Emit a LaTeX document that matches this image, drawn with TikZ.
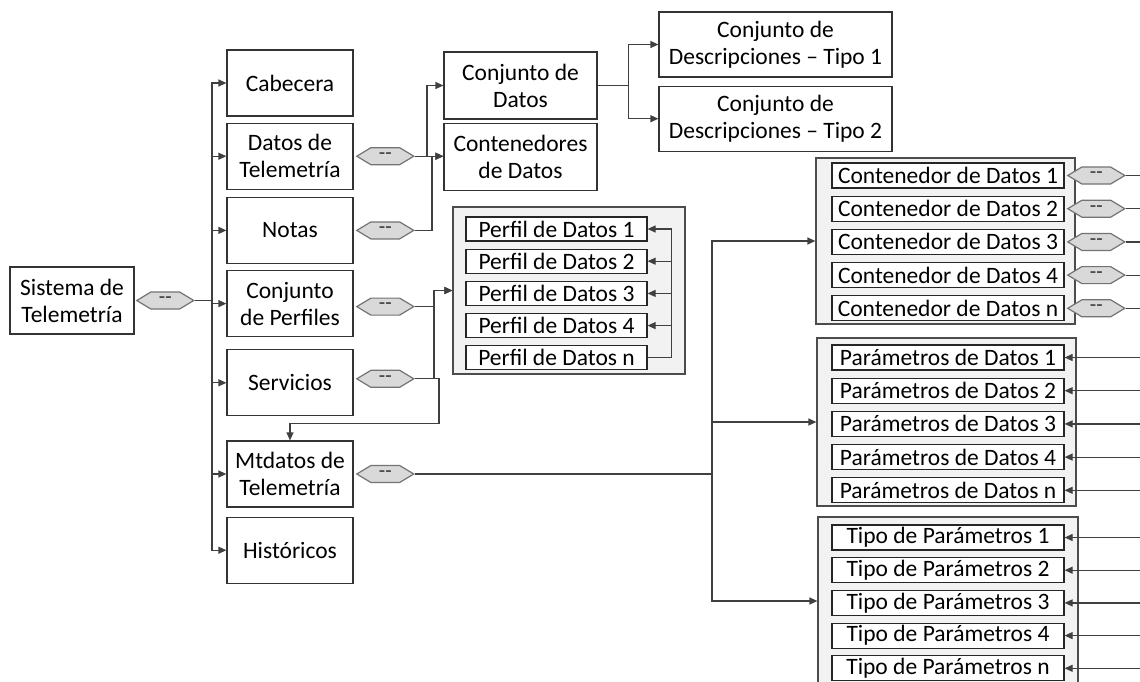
\documentclass[tikz,border=0pt]{standalone}
\usepackage{fontspec}
\setmainfont{Carlito}
\usetikzlibrary{
  arrows.meta,
  positioning,
  shapes.symbols,
}
\tikzset{
  >={Triangle[width=7pt,length=8pt]},
  box/.style={draw=black!80, fill=white, line width=1.2pt, inner sep=0pt,
    minimum width=126pt, minimum height=66pt},
  item/.style={draw=black!85, fill=white, line width=1.2pt, inner sep=0pt,
    minimum width=232pt, minimum height=25pt},
  panel/.style={draw=black!70, fill=gray!10, line width=1.2pt,
    minimum width=259pt, minimum height=168pt},
  hexa/.style={signal, signal to=west and east, signal pointer angle=62,
    draw=black!55, fill=gray!30, line width=1.2pt, inner sep=0pt,
    minimum width=57pt, minimum height=17pt, text=black!80,
    font=\fontsize{21}{21}\selectfont},
  link/.style={draw=black!75, line width=1.2pt},
}

\begin{document}
\begin{tikzpicture}[
        x=1pt, y=-1pt,
        every node/.style={align=center},
      ]
      \fontsize{23.5}{27}\selectfont
      \useasboundingbox (0,0) rectangle (1140,681);
      \clip (0,0) rectangle (1140,681);
      \coordinate (edge) at (1140,0);

      % raiz
      \node[box, minimum width=124pt, minimum height=67pt] (sis) at (72,300.5)
        {Sistema de\\Telemetría};
      \node[hexa, right = 1pt of sis] (hsis) {-{}-};
      \coordinate[right = 17pt of hsis.east] (trunk);

      % primer nivel
      \node[box] (cab) at (290,83) {Cabecera};
      \node[box, below = 6pt of cab] (dat) {Datos de\\Telemetría};
      \node[box, below = 7pt of dat] (not) {Notas};
      \node[box, below = 6pt of not] (per) {Conjunto\\de Perfiles};
      \node[box, below = 12pt of per] (ser) {Servicios};
      \node[box, below = 24pt of ser] (mtd) {Mtdatos de\\Telemetría};
      \node[box, below = 9pt of mtd] (his) {Históricos};

      \node[hexa, right = 2pt of dat] (hdat) {-{}-};
      \node[hexa, right = 2pt of not] (hnot) {-{}-};
      \node[hexa, right = 2pt of per, yshift=-3pt] (hper) {-{}-};
      \node[hexa, right = 2pt of ser, yshift=4pt] (hser) {-{}-};
      \node[hexa, right = 2pt of mtd] (hmtd) {-{}-};

      \draw[link] (hsis.east) -- (trunk);
      \foreach \n in {cab,dat,not,per,ser,mtd,his}
        \draw[link, ->] (trunk) |- (\n.west);

      % datos
      \node[box, minimum width=153pt, minimum height=67pt] (cjd) at (520.5,85.5)
        {Conjunto de\\Datos};
      \node[box, minimum width=153pt, minimum height=67pt, below = 3pt of cjd] (cnt)
        {Contenedores\\de Datos};
      \node[box, minimum width=233pt, minimum height=65pt] (ds1) at (775.5,44.5)
        {Conjunto de\\Descripciones – Tipo 1};
      \node[box, minimum width=233pt, minimum height=65pt, below = 8pt of ds1] (ds2)
        {Conjunto de\\Descripciones – Tipo 2};

      \draw[link, ->] (hdat.east) -- ++(12,0) |- (cjd.west);
      \draw[link, ->] (hdat.east) -- (hdat.east -| cnt.west);
      \draw[link, ->] (hnot.east) -- ++(17,0) |- (hdat.east -| cnt.west);
      \draw[link, ->] (cjd.east) -- ++(31,0) |- (ds1.west);
      \draw[link, ->] (cjd.east) -- ++(31,0) |- (ds2.west);

      % perfiles
      \node[panel, minimum width=232pt, minimum height=167pt] (ppf) at (569,290.5) {};
      \node[item, minimum width=181pt, minimum height=24pt,
        below right = 10pt and 13pt of ppf.north west] (p1) {Perfil de Datos 1};
      \node[item, minimum width=181pt, minimum height=24pt, below = 7pt of p1] (p2)
        {Perfil de Datos 2};
      \node[item, minimum width=181pt, minimum height=24pt, below = 7pt of p2] (p3)
        {Perfil de Datos 3};
      \node[item, minimum width=181pt, minimum height=24pt, below = 7pt of p3] (p4)
        {Perfil de Datos 4};
      \node[item, minimum width=181pt, minimum height=24pt, below = 7pt of p4] (pn)
        {Perfil de Datos n};
      \foreach \i in {p1,p2,p3,p4}
        \draw[link, ->] (pn.east) -- ++(24,0) |- (\i.east);

      \draw[link, ->] (hper.east) -- ++(19,0) |- (ppf.west);
      \draw[link, ->] (hser.east) -- ++(19,0) |- (ppf.west);
      \draw[link, ->] (hser.east) -- ++(24,0) -- ++(0,45) -| (mtd.north);

      % contenedores
      \node[panel, minimum height=166pt] (pcn) at (945.5,241) {};
      \node[item, below right = 5pt and 16pt of pcn.north west] (c1) {Contenedor de Datos 1};
      \node[item, below = 7pt of c1] (c2) {Contenedor de Datos 2};
      \node[item, below = 7pt of c2] (c3) {Contenedor de Datos 3};
      \node[item, below = 7pt of c3] (c4) {Contenedor de Datos 4};
      \node[item, below = 7pt of c4] (cn) {Contenedor de Datos n};
      \foreach \i in {c1,c2,c3,c4,cn} {
        \node[hexa, right = 2pt of \i] (h\i) {-{}-};
        \draw[link] (h\i.east) -- (h\i.east -| edge);
      }

      % parametros
      \node[panel] (ppr) at (946.5,422) {};
      \node[item, below right = 7pt and 15pt of ppr.north west] (q1) {Parámetros de Datos 1};
      \node[item, below = 7pt of q1] (q2) {Parámetros de Datos 2};
      \node[item, below = 7pt of q2] (q3) {Parámetros de Datos 3};
      \node[item, below = 7pt of q3] (q4) {Parámetros de Datos 4};
      \node[item, below = 7pt of q4] (qn) {Parámetros de Datos n};

      % tipos
      \node[panel, minimum width=260pt] (ptp) at (948,601) {};
      \node[item, below right = 8pt and 14pt of ptp.north west] (t1) {Tipo de Parámetros 1};
      \node[item, below = 6.5pt of t1] (t2) {Tipo de Parámetros 2};
      \node[item, below = 6.5pt of t2] (t3) {Tipo de Parámetros 3};
      \node[item, below = 6.5pt of t3] (t4) {Tipo de Parámetros 4};
      \node[item, below = 6.5pt of t4] (tn) {Tipo de Parámetros n};

      \foreach \i in {q1,q2,q3,q4,qn,t1,t2,t3,t4,tn}
        \draw[link, ->] (\i.east -| edge) -- (\i.east);

      \draw[link, ->] (hmtd.east) -- ++(297,0) |- (pcn.west);
      \draw[link, ->] (hmtd.east) -- ++(297,0) |- (ppr.west);
      \draw[link, ->] (hmtd.east) -- ++(297,0) |- (ptp.west);
    \end{tikzpicture}
\end{document}
